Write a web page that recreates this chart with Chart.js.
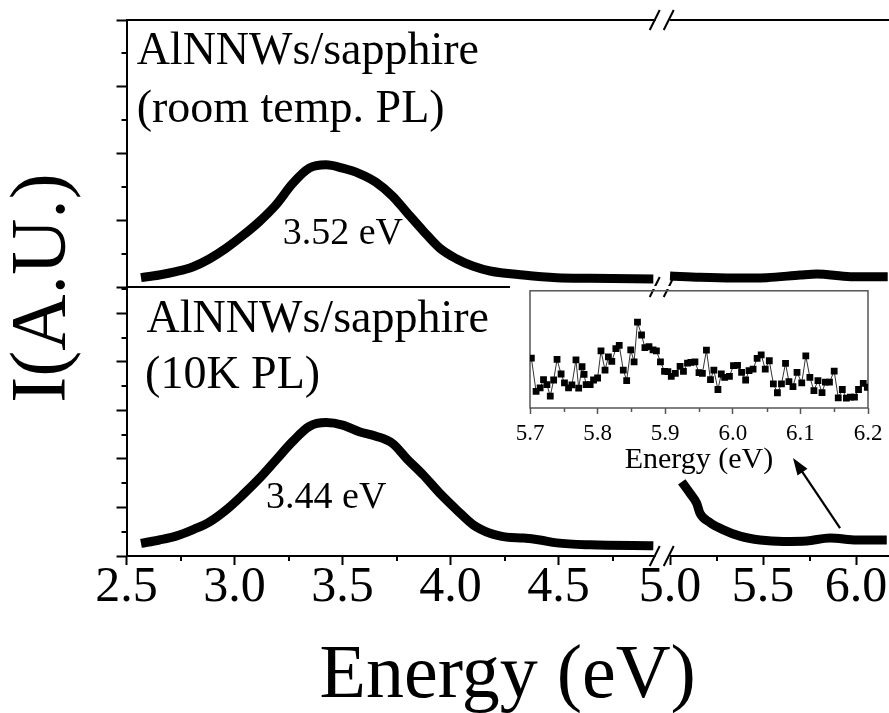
<!DOCTYPE html>
<html>
<head>
<meta charset="utf-8">
<script src="https://cdn.jsdelivr.net/npm/chart.js@4.4.1/dist/chart.umd.min.js"></script>
<style>
html, body { margin: 0; padding: 0; background: #fff; }
#wrap { position: relative; width: 889px; height: 713px; overflow: hidden; }
#main { position: absolute; left: 0; top: 0; }
#inset { position: absolute; left: 510px; top: 286px; }
</style>
</head>
<body>
<div id="wrap">
<canvas id="main" width="889" height="713"></canvas>
<canvas id="inset" width="379" height="190"></canvas>
</div>
<script>
const serif = "'Liberation Serif', 'Times New Roman', serif";

// room temperature PL (top panel), both sides of the axis break
const rtLeftE = [2.567, 2.652, 2.729, 2.806, 2.883, 2.961, 3.038, 3.115, 3.192, 3.269, 3.346, 3.424, 3.501,
                 3.578, 3.655, 3.732, 3.797, 3.874, 3.951, 4.029, 4.106, 4.183, 4.337, 4.492, 4.646, 4.939];
const rtLeftI = [0.14, 0.18, 0.23, 0.30, 0.42, 0.58, 0.77, 0.98, 1.23, 1.55, 1.78, 1.83, 1.78,
                 1.70, 1.57, 1.36, 1.12, 0.84, 0.58, 0.42, 0.31, 0.24, 0.18, 0.14, 0.13, 0.12];
const rtRightE = [5.0, 5.161, 5.34, 5.52, 5.70, 5.79, 5.97, 6.17];
const rtRightI = [0.165, 0.145, 0.135, 0.14, 0.18, 0.195, 0.155, 0.155];

// 10K PL (bottom panel)
const lowLeftE = [2.567, 2.652, 2.729, 2.806, 2.883, 2.961, 3.038, 3.115, 3.192, 3.269, 3.346, 3.424, 3.501, 3.578,
                  3.655, 3.732, 3.797, 3.874, 3.951, 4.029, 4.106, 4.183, 4.260, 4.337, 4.414, 4.492, 4.646, 4.939];
const lowLeftI = [0.26, 0.33, 0.41, 0.54, 0.70, 0.95, 1.26, 1.60, 1.98, 2.36, 2.67, 2.75, 2.70, 2.56,
                  2.47, 2.32, 2.01, 1.67, 1.29, 0.95, 0.64, 0.47, 0.39, 0.37, 0.33, 0.27, 0.23, 0.21];
const lowRightE = [5.063, 5.108, 5.143, 5.161, 5.215, 5.287, 5.376, 5.484, 5.61, 5.735, 5.86, 6.004, 6.165];
const lowRightI = [1.53, 1.29, 1.09, 0.88, 0.69, 0.54, 0.41, 0.33, 0.30, 0.31, 0.37, 0.33, 0.33];

// inset, 5.7 - 6.2 eV
const insetE = [5.702, 5.709, 5.715, 5.720, 5.725, 5.730, 5.735, 5.740, 5.746, 5.751, 5.757, 5.762, 5.768, 5.772,
                5.777, 5.780, 5.783, 5.789, 5.794, 5.800, 5.805, 5.811, 5.816, 5.821, 5.827, 5.832, 5.838, 5.843,
                5.849, 5.854, 5.859, 5.865, 5.870, 5.876, 5.882, 5.887, 5.893, 5.899, 5.904, 5.909, 5.915, 5.922,
                5.927, 5.933, 5.938, 5.944, 5.950, 5.955, 5.961, 5.967, 5.972, 5.978, 5.983, 5.988, 5.995, 6.001,
                6.007, 6.013, 6.019, 6.024, 6.030, 6.036, 6.042, 6.048, 6.054, 6.060, 6.066, 6.072, 6.078, 6.083,
                6.089, 6.095, 6.102, 6.108, 6.114, 6.120, 6.126, 6.132, 6.137, 6.143, 6.150, 6.156, 6.162, 6.168,
                6.174, 6.180, 6.186, 6.193, 6.199];
const insetI = [42.5, 14.1, 17.2, 24.2, 20.0, 10.1, 23.9, 41.4, 29.0, 21.4, 17.2, 19.7, 41.1, 16.9,
                35.2, 28.7, 20.0, 20.0, 23.9, 25.6, 48.7, 32.4, 43.7, 39.7, 50.7, 53.5, 32.4, 23.4,
                49.6, 39.4, 73.2, 62.3, 51.5, 52.4, 49.6, 48.7, 39.4, 31.3, 31.0, 27.0, 29.6, 35.5,
                31.3, 38.3, 38.9, 39.4, 30.1, 29.6, 49.3, 24.2, 32.4, 15.8, 29.0, 26.2, 27.0, 36.1,
                36.3, 30.4, 23.9, 31.8, 33.2, 42.3, 45.4, 33.2, 40.3, 20.6, 13.0, 20.6, 38.0, 22.5,
                18.3, 30.4, 21.4, 44.5, 26.2, 14.9, 23.4, 13.2, 22.0, 22.0, 31.5, 8.7, 15.8, 8.5,
                9.3, 9.3, 15.8, 21.1, 17.7];

// ticks
const xLeftMajor = [2.5, 3.0, 3.5, 4.0, 4.5];
const xLeftMinor = [2.75, 3.25, 3.75, 4.25, 4.75];
const xRightMajor = [5.0, 5.5, 6.0];
const xRightMinor = [5.25, 5.75];
const yTopMajor = [0, 1, 2, 3, 4];
const yTopMinor = [0.5, 1.5, 2.5, 3.5];
const yBotMajor = [0, 1, 2, 3, 4, 5];
const yBotMinor = [0.5, 1.5, 2.5, 3.5, 4.5, 5.5];
const insetMajor = [5.7, 5.8, 5.9, 6.0, 6.1, 6.2];
const insetMinor = [5.75, 5.85, 5.95, 6.05, 6.15];

// text inside the panels, placed in data units
const notes = [
    {text: 'AlNNWs/sapphire', x: 2.547, y: 3.34, xs: 'xL', ys: 'yT', size: 46},
    {text: '(room temp. PL)', x: 2.547, y: 2.47, xs: 'xL', ys: 'yT', size: 46},
    {text: '3.52 eV', x: 3.223, y: 0.644, xs: 'xL', ys: 'yT', size: 38},
    {text: 'AlNNWs/sapphire', x: 2.593, y: 4.625, xs: 'xL', ys: 'yB', size: 46},
    {text: '(10K PL)', x: 2.586, y: 3.457, xs: 'xL', ys: 'yB', size: 46},
    {text: '3.44 eV', x: 3.146, y: 0.983, xs: 'xL', ys: 'yB', size: 38}
];
const arrowFrom = [5.914, 0.577];
const arrowTo = [5.661, 2.02];

function pts(xs, ys) {
    return xs.map((x, i) => ({x: x, y: ys[i]}));
}

function curve(xs, ys, xId, yId) {
    return {
        data: pts(xs, ys),
        xAxisID: xId,
        yAxisID: yId,
        borderColor: '#000',
        backgroundColor: '#000',
        borderWidth: 9,
        pointRadius: 0,
        cubicInterpolationMode: 'monotone'
    };
}

function setTicks(list) {
    return scale => { scale.ticks = list.map(v => ({value: v})); };
}

const mainMinor = {xL: xLeftMinor, xR: xRightMinor, yT: yTopMinor, yB: yBotMinor};

const minorTicks = {
    id: 'minorTicks',
    afterDraw(chart) {
        const ctx = chart.ctx;
        ctx.save();
        ctx.strokeStyle = '#000';
        ctx.lineWidth = 2;
        for (const id in mainMinor) {
            const s = chart.scales[id];
            mainMinor[id].forEach(v => {
                const p = Math.round(s.getPixelForValue(v));
                ctx.beginPath();
                if (s.isHorizontal()) {
                    ctx.moveTo(p, s.top);
                    ctx.lineTo(p, s.top + 5);
                } else {
                    ctx.moveTo(s.right, p);
                    ctx.lineTo(s.right - 5, p);
                }
                ctx.stroke();
            });
        }
        ctx.restore();
    }
};

const frame = {
    id: 'frame',
    afterDraw(chart) {
        const {ctx, chartArea, scales} = chart;
        const cut = scales.xL.right;
        const lines = [scales.yT.top, scales.yT.bottom, scales.yB.bottom];
        ctx.save();
        ctx.strokeStyle = '#000';
        ctx.lineWidth = 2;
        [scales.yT.top, scales.yT.bottom].forEach(y => {
            ctx.beginPath();
            ctx.moveTo(chartArea.left, y);
            ctx.lineTo(chartArea.right, y);
            ctx.stroke();
        });
        // axis break
        ctx.fillStyle = '#fff';
        lines.forEach(y => ctx.fillRect(cut, y - 2, 14, 4));
        lines.forEach(y => {
            [cut - 1, cut + 13].forEach(cx => {
                ctx.beginPath();
                ctx.moveTo(cx - 5, y + 10);
                ctx.lineTo(cx + 5, y - 10);
                ctx.stroke();
            });
        });
        ctx.restore();
    }
};

const noteText = {
    id: 'noteText',
    afterDatasetsDraw(chart) {
        const {ctx, scales} = chart;
        ctx.save();
        ctx.fillStyle = '#000';
        ctx.textAlign = 'left';
        ctx.textBaseline = 'alphabetic';
        notes.forEach(n => {
            ctx.font = n.size + 'px ' + serif;
            ctx.fillText(n.text, scales[n.xs].getPixelForValue(n.x), scales[n.ys].getPixelForValue(n.y));
        });
        // arrow pointing to the inset
        const x0 = scales.xR.getPixelForValue(arrowFrom[0]);
        const y0 = scales.yB.getPixelForValue(arrowFrom[1]);
        const x1 = scales.xR.getPixelForValue(arrowTo[0]);
        const y1 = scales.yB.getPixelForValue(arrowTo[1]);
        const a = Math.atan2(y1 - y0, x1 - x0);
        ctx.strokeStyle = '#000';
        ctx.lineWidth = 2.2;
        ctx.beginPath();
        ctx.moveTo(x0, y0);
        ctx.lineTo(x1 - 10 * Math.cos(a), y1 - 10 * Math.sin(a));
        ctx.stroke();
        ctx.beginPath();
        ctx.moveTo(x1, y1);
        ctx.lineTo(x1 - 17 * Math.cos(a) + 6 * Math.sin(a), y1 - 17 * Math.sin(a) - 6 * Math.cos(a));
        ctx.lineTo(x1 - 17 * Math.cos(a) - 6 * Math.sin(a), y1 - 17 * Math.sin(a) + 6 * Math.cos(a));
        ctx.closePath();
        ctx.fill();
        ctx.restore();
    }
};

function xAxis(min, max, major, weight, stackWeight) {
    return {
        type: 'linear',
        position: 'bottom',
        stack: 'x',
        stackWeight: stackWeight,
        weight: weight,
        min: min,
        max: max,
        afterBuildTicks: setTicks(major),
        afterFit: s => {
            s.height = 70;
            s.paddingLeft = 0;
            s.paddingRight = 0;
        },
        ticks: {
            color: '#000',
            font: {family: serif, size: 50, lineHeight: 1},
            padding: -2.5,
            maxRotation: 0,
            autoSkip: false,
            callback: v => v.toFixed(1)
        },
        grid: {display: true, drawOnChartArea: false, tickLength: 9, tickWidth: 2, tickColor: '#000'},
        border: {display: true, color: '#000', width: 2}
    };
}

function yAxis(max, major, weight, stackWeight) {
    return {
        type: 'linear',
        position: 'left',
        stack: 'y',
        stackWeight: stackWeight,
        weight: weight,
        min: 0,
        max: max,
        afterBuildTicks: setTicks(major),
        afterFit: s => { s.width = 43.5; },
        ticks: {display: false},
        grid: {display: true, drawOnChartArea: false, tickLength: 10, tickWidth: 2, tickColor: '#000'},
        border: {display: true, color: '#000', width: 2}
    };
}

new Chart(document.getElementById('main'), {
    type: 'line',
    data: {
        datasets: [
            curve(rtLeftE, rtLeftI, 'xL', 'yT'),
            curve(rtRightE, rtRightI, 'xR', 'yT'),
            curve(lowLeftE, lowLeftI, 'xL', 'yB'),
            curve(lowRightE, lowRightI, 'xR', 'yB')
        ]
    },
    options: {
        responsive: false,
        animation: false,
        layout: {padding: {left: 0, right: 0, top: 20, bottom: 1.8}},
        plugins: {
            legend: {display: false},
            tooltip: {enabled: false},
            title: {
                display: true,
                position: 'bottom',
                fullSize: false,
                text: 'Energy (eV)',
                color: '#000',
                font: {family: serif, size: 76, weight: 'normal', lineHeight: 0.9},
                padding: {top: 16.8, bottom: 0}
            },
            subtitle: {
                display: true,
                position: 'left',
                fullSize: false,
                text: 'I(A.U.)',
                color: '#000',
                font: {family: serif, size: 78, weight: 'normal', lineHeight: 1},
                padding: {top: 5, bottom: 0}
            }
        },
        scales: {
            xL: xAxis(2.5, 4.95, xLeftMajor, 1, 529.2),
            xR: xAxis(4.923, 6.177, xRightMajor, 2, 233.3),
            yT: yAxis(4, yTopMajor, 2, 267),
            yB: yAxis(5.546, yBotMajor, 1, 269)
        }
    },
    plugins: [minorTicks, frame, noteText]
});

// inset
const insetBox = {
    id: 'insetBox',
    beforeDraw(chart) {
        // white strip hides the panel divider behind the inset
        chart.ctx.save();
        chart.ctx.fillStyle = '#fff';
        chart.ctx.fillRect(0, 0, chart.width, 3);
        chart.ctx.restore();
    },
    beforeDatasetsDraw(chart) {
        const {ctx, chartArea: a, scales} = chart;
        ctx.save();
        ctx.strokeStyle = '#555';
        ctx.lineWidth = 1.5;
        ctx.strokeRect(a.left, a.top, a.right - a.left, a.bottom - a.top);
        const s = scales.x;
        insetMinor.forEach(v => {
            const p = Math.round(s.getPixelForValue(v)) + 0.5;
            ctx.beginPath();
            ctx.moveTo(p, s.top);
            ctx.lineTo(p, s.top + 4);
            ctx.stroke();
        });
        ctx.restore();
    }
};

new Chart(document.getElementById('inset'), {
    type: 'line',
    data: {
        datasets: [{
            data: pts(insetE, insetI),
            borderColor: '#333',
            backgroundColor: '#000',
            borderWidth: 1,
            pointStyle: 'rect',
            pointRadius: 4.8,
            pointBackgroundColor: '#000',
            pointBorderColor: '#000',
            pointBorderWidth: 0,
            tension: 0
        }]
    },
    options: {
        responsive: false,
        animation: false,
        layout: {padding: {left: 20, right: 21, top: 3, bottom: 0}},
        plugins: {legend: {display: false}, tooltip: {enabled: false}},
        scales: {
            x: {
                type: 'linear',
                min: 5.7,
                max: 6.2,
                afterBuildTicks: setTicks(insetMajor),
                afterFit: s => {
                    s.height = 68;
                    s.paddingLeft = 0;
                    s.paddingRight = 0;
                },
                ticks: {
                    color: '#000',
                    font: {family: serif, size: 23, lineHeight: 1},
                    padding: 8.7,
                    maxRotation: 0,
                    autoSkip: false,
                    callback: v => v.toFixed(1)
                },
                grid: {display: true, drawOnChartArea: false, tickLength: 6, tickWidth: 1.5, tickColor: '#555'},
                border: {display: false},
                title: {
                    display: true,
                    text: 'Energy (eV)',
                    color: '#000',
                    font: {family: serif, size: 30, lineHeight: 1},
                    padding: {top: 0, bottom: 1.3}
                }
            },
            y: {type: 'linear', display: false, min: 0, max: 100}
        }
    },
    plugins: [insetBox]
});
</script>
</body>
</html>
